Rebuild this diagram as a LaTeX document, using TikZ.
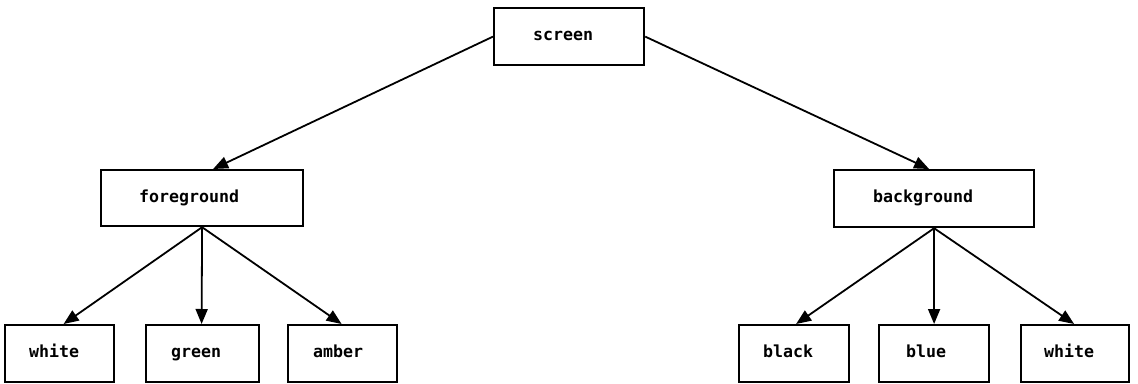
\documentclass[tikz,border=0pt]{standalone}
\usepackage{fontspec}
\newfontfamily\plotfont{DejaVu Sans Mono}
\usetikzlibrary{arrows.meta}
\begin{document}
\begin{tikzpicture}[x=1pt,y=-1pt,
  box/.style={draw, line width=2.2pt, rectangle, inner ysep=0pt, align=left,
    text height=12pt, text depth=4pt,
    anchor=north west, font=\plotfont\bfseries\fontsize{16.6}{16.6}\selectfont},
  conn/.style={line width=1.8pt, -{Triangle[length=15pt,width=12pt]}}]
\useasboundingbox (0,0) rectangle (1138,383);
\node[box, minimum height=57, text width=72, inner xsep=39] (scr) at (493,7) {screen};
\node[box, minimum height=56, text width=126, inner xsep=38] (fg) at (100,169) {foreground};
\node[box, minimum height=57, text width=122, inner xsep=39] (bg) at (833,169) {background};
\node[box, minimum height=57, text width=61, inner xsep=24] (w1) at (4,324) {white};
\node[box, minimum height=57, text width=63, inner xsep=25] (gr) at (145,324) {green};
\node[box, minimum height=57, text width=59, inner xsep=25] (am) at (287,324) {amber};
\node[box, minimum height=57, text width=62, inner xsep=24] (bk) at (738,324) {black};
\node[box, minimum height=57, text width=56, inner xsep=27] (bl) at (878,324) {blue};
\node[box, minimum height=57, text width=62, inner xsep=23] (w2) at (1020,324) {white};
\draw[conn] (scr.west) -- ([xshift=11pt]fg.north);
\draw[conn] (scr.east) -- ([xshift=-5pt]bg.north);
\draw[conn] (fg.south) -- ([xshift=4pt]w1.north);
\draw[conn] (fg.south) -- ([xshift=-1pt]gr.north);
\draw[conn] (fg.south) -- ([xshift=-1pt]am.north);
\draw[conn] (bg.south) -- ([xshift=2pt]bk.north);
\draw[conn] (bg.south) -- ([xshift=0pt]bl.north);
\draw[conn] (bg.south) -- ([xshift=-1pt]w2.north);
\end{tikzpicture}
\end{document}
